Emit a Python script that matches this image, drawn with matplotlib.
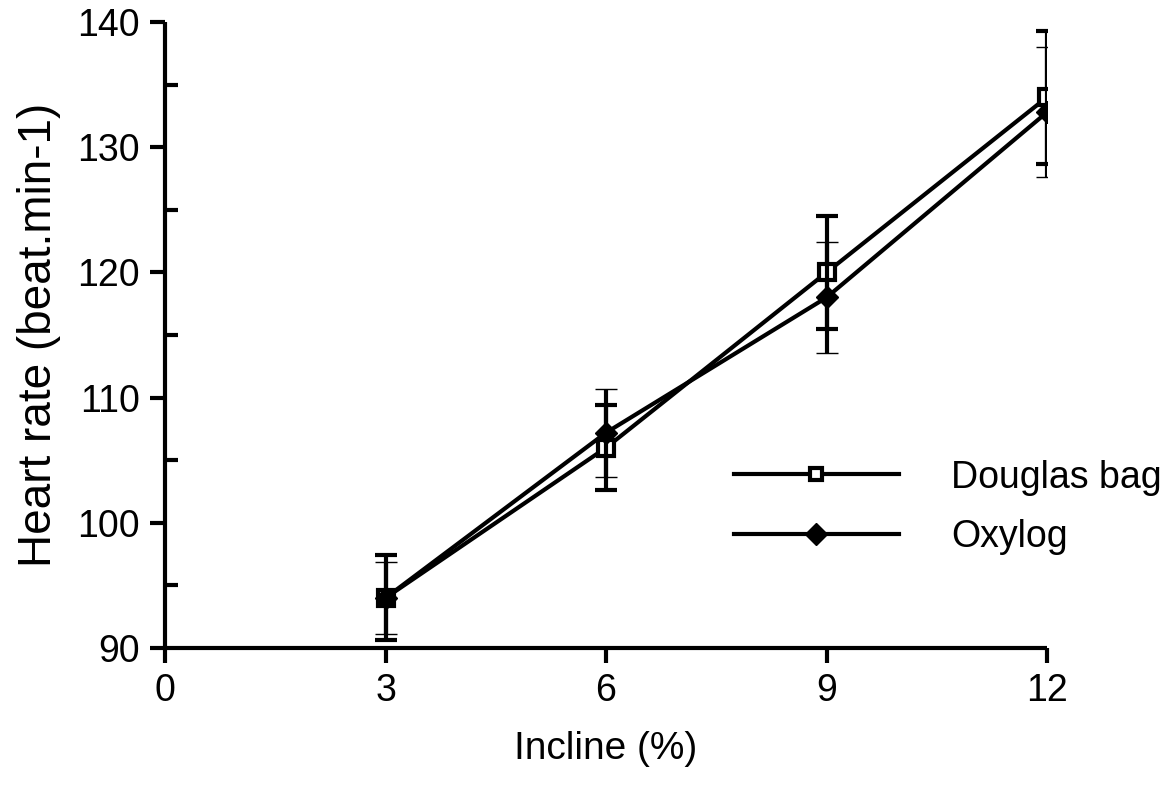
import matplotlib
matplotlib.use("Agg")
import matplotlib.pyplot as plt
from matplotlib.ticker import MultipleLocator
from matplotlib.lines import Line2D

plt.rcParams['font.family'] = ['Liberation Sans', 'DejaVu Sans']

incline = [3, 6, 9, 12]
douglas = [94.0, 106.0, 120.0, 134.0]
douglas_err = [3.4, 3.4, 4.5, 5.3]
oxylog = [94.0, 107.2, 118.0, 132.8]
oxylog_err = [2.9, 3.5, 4.4, 5.2]
xticks = [0, 3, 6, 9, 12]
yticks = [90, 100, 110, 120, 130, 140]

fig = plt.figure(figsize=(11.67, 7.89), dpi=100)
ax = fig.add_axes([0.1414, 0.1787, 0.7558, 0.7933])

lw = 3.0
ax.errorbar(incline, douglas, yerr=douglas_err, color='black', lw=lw,
            elinewidth=3, capsize=8, capthick=4,
            marker='s', ms=12, mfc='white', mec='black', mew=3,
            zorder=3)
ax.errorbar(incline, oxylog, yerr=oxylog_err, color='black', lw=lw,
            elinewidth=3, capsize=8, capthick=4,
            marker='D', ms=11, mfc='black', mec='black', mew=1,
            zorder=4)

ax.set_xlim(0, 12)
ax.set_ylim(90, 140)
ax.set_xticks(xticks)
ax.set_yticks(yticks)
ax.yaxis.set_minor_locator(MultipleLocator(5))

for s in ['top', 'right']:
    ax.spines[s].set_visible(False)
for s in ['left', 'bottom']:
    ax.spines[s].set_linewidth(3)
    ax.spines[s].set_capstyle('butt')

ax.tick_params(axis='both', which='major', direction='out', length=11,
               width=3, labelsize=27, pad=7)
ax.tick_params(axis='y', which='minor', direction='in', length=9, width=3)

ax.set_xlabel('Incline (%)', fontsize=28, labelpad=16)
ax.set_ylabel('Heart rate (beat.min-1)', fontsize=33, labelpad=12)

handles = [
    Line2D([], [], color='black', lw=lw, marker='s', ms=9, mfc='white', mec='black', mew=3),
    Line2D([], [], color='black', lw=lw, marker='D', ms=11, mfc='black', mec='black'),
]
labels = ['Douglas bag', 'Oxylog']
leg = ax.legend(handles, labels, loc='center left', bbox_to_anchor=(0.645, 0.225),
                frameon=False, fontsize=27, handlelength=4.4, handletextpad=1.4,
                labelspacing=0.62, numpoints=1, borderaxespad=0, borderpad=0)

fig.savefig('out.png', dpi=100)
